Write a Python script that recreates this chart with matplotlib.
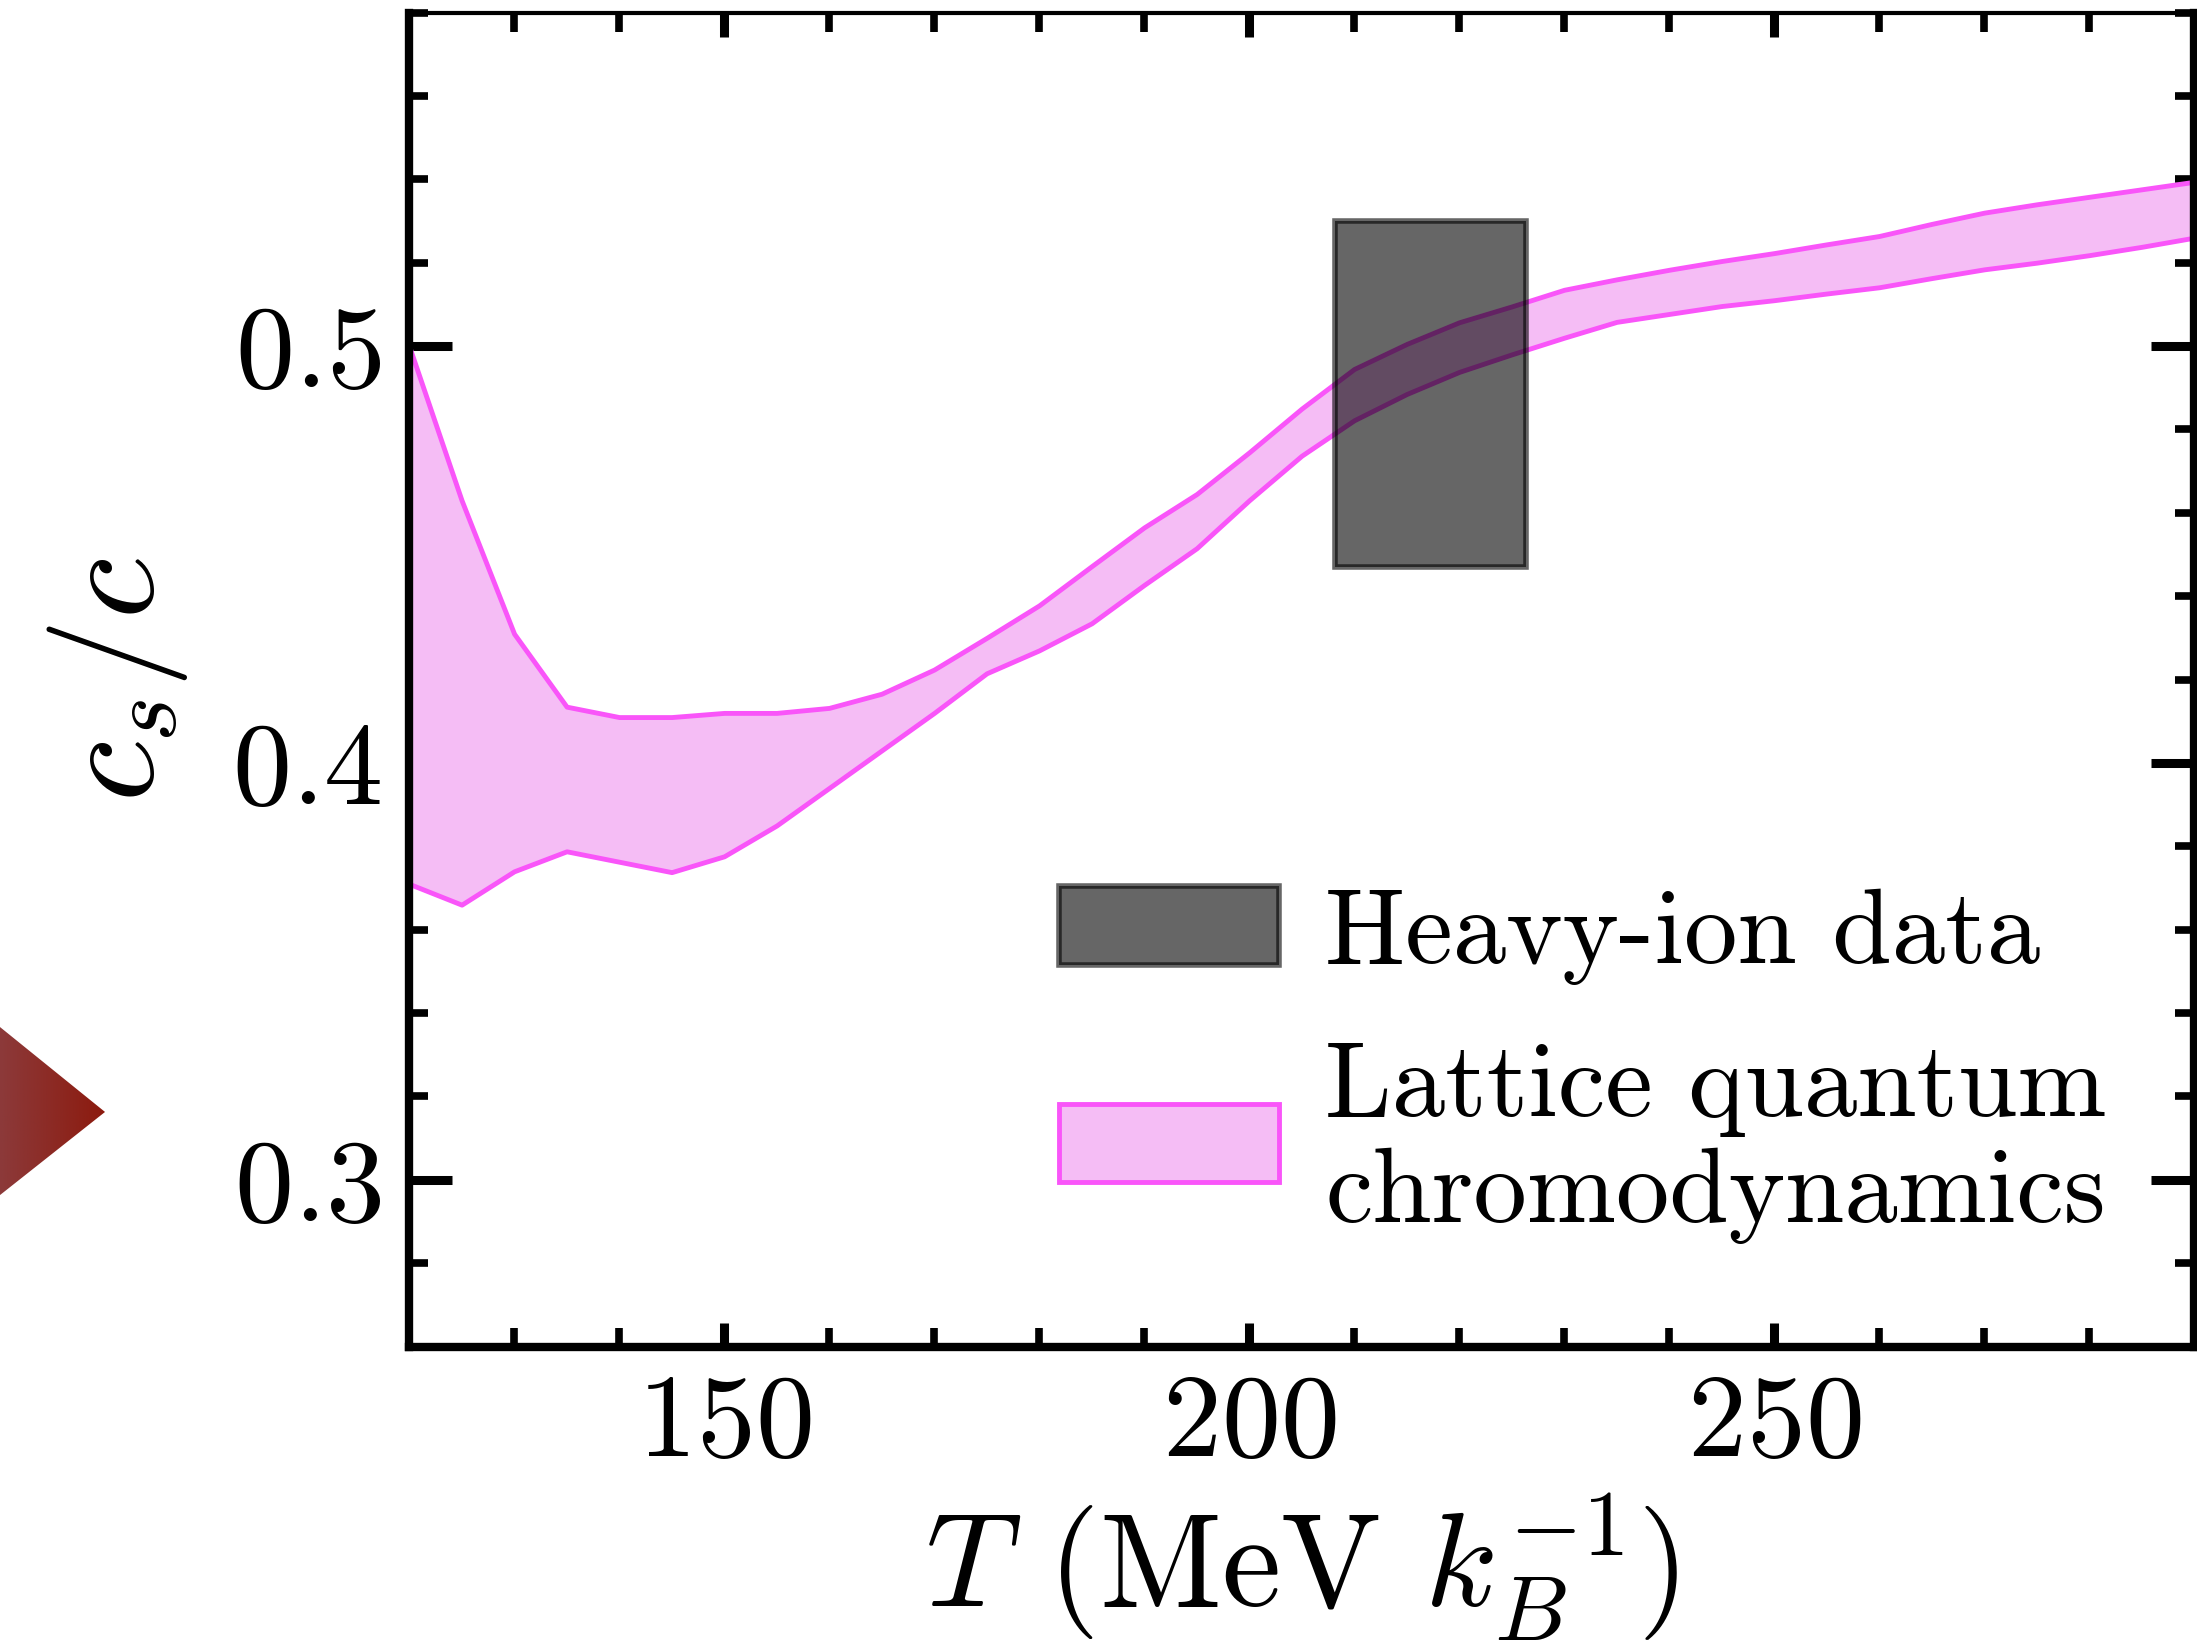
import numpy as np
import matplotlib
matplotlib.use("Agg")
import matplotlib.pyplot as plt
from matplotlib.patches import Rectangle, Polygon

plt.rcParams['font.family'] = 'cmr10'
plt.rcParams['mathtext.fontset'] = 'cm'
plt.rcParams['axes.formatter.use_mathtext'] = True

# lattice QCD band (speed of sound)
T_lat = [120, 125, 130, 135, 140, 145, 150, 155, 160, 165, 170, 175, 180, 185,
         190, 195, 200, 205, 210, 215, 220, 225, 230, 235, 240, 245, 250, 255,
         260, 265, 270, 275, 280, 285, 290]
cs_upper = [0.500, 0.463, 0.431, 0.4135, 0.411, 0.411, 0.412, 0.412, 0.4132, 0.4166,
            0.4224, 0.430, 0.4378, 0.4472, 0.4565, 0.4645, 0.4745, 0.485, 0.4945,
            0.5005, 0.5057, 0.5095, 0.5135, 0.516, 0.5183, 0.5204, 0.5223, 0.5244,
            0.5264, 0.5293, 0.532, 0.534, 0.5358, 0.5376, 0.5394]
cs_lower = [0.371, 0.366, 0.374, 0.3788, 0.3763, 0.3738, 0.3776, 0.385, 0.394, 0.403,
            0.412, 0.4215, 0.427, 0.4335, 0.4427, 0.4515, 0.463, 0.4737, 0.4822,
            0.4885, 0.4938, 0.498, 0.502, 0.5058, 0.5077, 0.5096, 0.511, 0.5126,
            0.5141, 0.5163, 0.5184, 0.52, 0.5218, 0.5238, 0.526]

# heavy-ion measurement box
T_hi = 217.3
T_hi_err = 9.1
cs_hi = 0.4885
cs_hi_err = 0.0415

fig = plt.figure(figsize=(21.97, 16.52), dpi=100)
ax = fig.add_axes([0.1862, 0.1849, 0.8125, 0.8075])

ax.fill_between(T_lat, cs_lower, cs_upper, facecolor='#f5bdf5', edgecolor='#f955f9',
                linewidth=3.5, label='Lattice quantum\nchromodynamics', zorder=2)
box = Rectangle((T_hi - T_hi_err, cs_hi - cs_hi_err), 2 * T_hi_err, 2 * cs_hi_err,
                facecolor=(0, 0, 0, 0.6), edgecolor=(0, 0, 0, 0.6), linewidth=4,
                label='Heavy-ion data', zorder=3)
ax.add_patch(box)

ax.set_xlim(120, 290)
ax.set_ylim(0.26, 0.58)
ax.set_xticks([150, 200, 250])
ax.set_xticks(np.arange(120, 291, 10), minor=True)
ax.set_yticks([0.3, 0.4, 0.5])
ax.set_yticks(np.arange(0.26, 0.581, 0.02), minor=True)
ax.tick_params(which='both', direction='in', top=True, right=True, labelsize=85)
ax.tick_params(which='major', width=6.5)
ax.tick_params(which='minor', width=5.5, length=14)
ax.tick_params(axis='x', which='major', length=17, pad=20)
ax.tick_params(axis='y', which='major', length=31, pad=20)
for name, s in ax.spines.items():
    s.set_linewidth(3 if name == 'top' else 6)

ax.set_xlabel(r'$T$ (MeV $k_B^{-1}$)', fontsize=96, labelpad=9)
ax.set_ylabel(r'$c_s/c$', fontsize=100, labelpad=30)

h, l = ax.get_legend_handles_labels()
leg = ax.legend([box, h[0]], ['Heavy-ion data', 'Lattice quantum\nchromodynamics'],
                loc='upper left', bbox_to_anchor=(0.364, 0.345), frameon=False,
                fontsize=77, handlelength=2.06, handleheight=0.75, handletextpad=0.43,
                labelspacing=0.53, borderpad=0, borderaxespad=0)
for t in leg.get_texts():
    t.set_linespacing(1.15)

# decorative red arrow at the left edge
tri = Polygon([[0, 0.3783], [0.0478, 0.3269], [0, 0.2766]], closed=True,
              transform=fig.transFigure, facecolor='none', edgecolor='none')
fig.add_artist(tri)
gax = fig.add_axes([0, 0.2766, 0.0478, 0.1017])
gax.set_axis_off()
grad = np.linspace(0, 1, 256).reshape(1, -1)
cmap = matplotlib.colors.LinearSegmentedColormap.from_list('r', ['#8c3a3a', '#8c1a0e'])
im = gax.imshow(grad, aspect='auto', cmap=cmap, extent=[0, 1, 0, 1])
im.set_clip_path(tri)

fig.savefig('out.png', dpi=100)
